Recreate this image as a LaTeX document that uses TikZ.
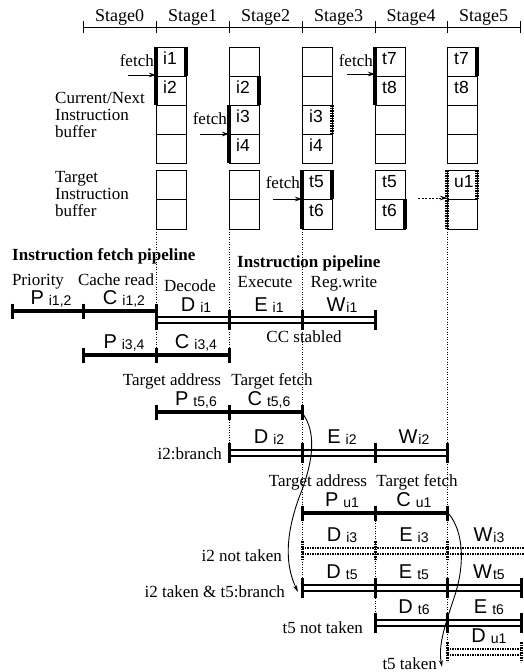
\documentclass[tikz,border=0pt]{standalone}
\usepackage{fontspec}
\setmainfont{Liberation Serif}
\setsansfont{Liberation Sans}
\usetikzlibrary{arrows.meta}
\newcommand\BLab[3][5pt]{{\sffamily\fontsize{20}{20}\selectfont #2\hspace{#1}\raisebox{-1pt}{\fontsize{14}{14}\selectfont #3}}}
\newcommand\SBar[4]{\draw[sbar] (#2,#1) -- (#3,#1); \foreach \tx in {#4} {\draw[tk] (\tx,#1-7.5) -- (\tx,#1+7.5);}}
\newcommand\DBar[5][]{\draw[dbar,#1] (#3,#2) -- (#4,#2); \foreach \tx in {#5} {\draw[tk,#1] (\tx,#2-10) -- (\tx,#2+10);}}
\begin{document}
\begin{tikzpicture}[x=1pt,y=-1pt,
  sbar/.style={line width=4pt},
  dbar/.style={line width=2.6pt,double=white,double distance=3.2pt},
  dotpat/.style={dash pattern=on 1.6pt off 0.9pt},
  tk/.style={line width=3pt},
  vdot/.style={line width=0.8pt,dash pattern=on 1pt off 1.5pt},
  thk/.style={line width=3.5pt},
  cell/.style={line width=0.9pt},
  txt/.style={inner sep=0pt,font=\fontsize{17}{17}\selectfont},
  btxt/.style={inner sep=0pt,font=\bfseries\fontsize{17}{17}\selectfont,anchor=base west},
  ctxt/.style={inner sep=0pt,font=\sffamily\fontsize{17.5}{17.5}\selectfont,anchor=base west},
  blab/.style={inner sep=0pt,anchor=base},
  arr/.style={-{Stealth[length=7pt,width=4.5pt]},line width=1pt},
  carr/.style={-{Stealth[length=7pt,width=4pt]},line width=0.9pt},
]
\useasboundingbox (0,0) rectangle (524,672);

% header
\draw[line width=0.9pt] (83,27) -- (520,27);
\foreach \xx in {83,156,229,302,375,447,520} \draw[line width=0.9pt] (\xx,21) -- (\xx,33);
\foreach \i/\xx in {0/119.5,1/192.5,2/265.5,3/338.5,4/411,5/483.5}
  \node[txt,anchor=base,font=\fontsize{18}{18}\selectfont] (st\i) at (\xx,21) {Stage\i};

% buffers
\foreach \xx in {156,229,302,375,447} {
  \draw[cell] (\xx,47) rectangle (\xx+30,163);
  \foreach \yy in {76,105,134} \draw[cell] (\xx,\yy) -- (\xx+30,\yy);
  \draw[cell] (\xx,170) rectangle (\xx+30,229);
  \draw[cell] (\xx,199) -- (\xx+30,199);
}
\draw[thk] (156,47) -- (156,105);
\draw[thk] (186,47) -- (186,76);
\draw[thk] (259,76) -- (259,105);
\draw[thk] (229,105) -- (229,163);
\draw[thk,dotpat] (332,105) -- (332,134);
\draw[thk] (375,47) -- (375,105);
\draw[thk] (477,47) -- (477,76);
\draw[thk] (302,170) -- (302,229);
\draw[thk] (332,170) -- (332,199);
\draw[thk] (405,199) -- (405,229);
\draw[thk,dotpat] (447,170) -- (447,229);
\draw[thk,dotpat] (477,170) -- (477,199);

\node[ctxt] (c11) at (163,64.5) {i1};
\node[ctxt] (c12) at (163,93.5) {i2};
\node[ctxt] (c22) at (236,93.5) {i2};
\node[ctxt] (c23) at (236,122.5) {i3};
\node[ctxt] (c24) at (236,151.5) {i4};
\node[ctxt] (c33) at (309,122.5) {i3};
\node[ctxt] (c34) at (309,151.5) {i4};
\node[ctxt] (c41) at (382,64.5) {t7};
\node[ctxt] (c42) at (382,93.5) {t8};
\node[ctxt] (c51) at (454,64.5) {t7};
\node[ctxt] (c52) at (454,93.5) {t8};
\node[ctxt] (t35) at (309,187.5) {t5};
\node[ctxt] (t36) at (309,216.5) {t6};
\node[ctxt] (t45) at (382,187.5) {t5};
\node[ctxt] (t46) at (382,216.5) {t6};
\node[ctxt] (t5u) at (454,187.5) {u1};

% fetch labels and arrows
\node[txt,anchor=base east] (f1) at (154,66) {fetch};
\coordinate (f1s) at (128,75); \coordinate (f1e) at (156,75);
\draw[arr] (f1s) -- (f1e);
\node[txt,anchor=base east] (f2) at (227,124) {fetch};
\coordinate (f2s) at (200,134); \coordinate (f2e) at (229,134);
\draw[arr] (f2s) -- (f2e);
\node[txt,anchor=base east] (f4) at (373,66) {fetch};
\coordinate (f4s) at (347,74); \coordinate (f4e) at (375,74);
\draw[arr] (f4s) -- (f4e);
\node[txt,anchor=base east] (f3) at (300,188) {fetch};
\coordinate (f3s) at (273,199); \coordinate (f3e) at (302,199);
\draw[arr] (f3s) -- (f3e);
\coordinate (d5s) at (418,198); \coordinate (d5e) at (447,198);
\draw[arr,line width=0.8pt,dash pattern=on 2pt off 1.5pt] (d5s) -- (d5e);

% left labels
\node[txt,anchor=base west] (cn1) at (55,103) {Current/Next};
\node[txt,anchor=base west] (cn2) at (55,120) {Instruction};
\node[txt,anchor=base west] (cn3) at (55,137) {buffer};
\node[txt,anchor=base west] (tb1) at (55,182) {Target};
\node[txt,anchor=base west] (tb2) at (55,199) {Instruction};
\node[txt,anchor=base west] (tb3) at (55,216) {buffer};

% vertical dotted guides
\draw[vdot] (156,229) -- (156,355);
\draw[vdot] (229,229) -- (229,355);
\draw[vdot] (229,412) -- (229,453);
\draw[vdot] (302,229) -- (302,588);
\draw[vdot] (447,229) -- (447,652);
\draw[vdot] (375,513) -- (375,623);

% pipeline headings
\node[btxt] (ifp) at (12,260) {Instruction fetch pipeline};
\node[btxt] (ip) at (237,267) {Instruction pipeline};
\node[txt,anchor=base] (pri) at (38,285) {Priority};
\node[txt,anchor=base] (cr) at (116,285) {Cache read};
\node[txt,anchor=base] (dec) at (190,291) {Decode};
\node[txt,anchor=base] (exe) at (265,287) {Execute};
\node[txt,anchor=base] (rw) at (344,287) {Reg.write};

% row: P/C i1,2
\SBar{311}{12}{156}{12,83,156}
\node[blab] (lp1) at (51,304.5) {\BLab{P}{i1,2}};
\node[blab] (lc1) at (124,304.5) {\BLab{C}{i1,2}};
% row: D/E/W i1
\DBar{320}{156}{375}{156,229,302,375}
\node[blab] (ld1) at (196,311) {\BLab{D}{i1}};
\node[blab] (le1) at (269,311) {\BLab{E}{i1}};
\node[blab] (lw1) at (342,311) {\BLab[1pt]{W}{i1}};
\node[txt,anchor=base] (cc) at (304,342) {CC stabled};
% row: P/C i3,4
\SBar{355}{83}{229}{83,156,229}
\node[blab] (lp3) at (124,348.5) {\BLab{P}{i3,4}};
\node[blab] (lc3) at (196,348.5) {\BLab{C}{i3,4}};
% target address row 1
\node[txt,anchor=base] (ta1) at (172,385) {Target address};
\node[txt,anchor=base] (tf1) at (272,385) {Target fetch};
\SBar{412}{156}{302}{156,229,302}
\node[blab] (lpt) at (196,405.5) {\BLab{P}{t5,6}};
\node[blab] (lct) at (269,405.5) {\BLab{C}{t5,6}};
% D/E/W i2
\DBar{453}{229}{447}{229,302,375,447}
\node[blab] (ld2) at (269,443.5) {\BLab{D}{i2}};
\node[blab] (le2) at (342,443.5) {\BLab{E}{i2}};
\node[blab] (lw2) at (414,443.5) {\BLab[1pt]{W}{i2}};
\node[txt,anchor=base east] (br) at (222,459) {i2:branch};
% target address row 2
\node[txt,anchor=base] (ta2) at (318,486) {Target address};
\node[txt,anchor=base] (tf2) at (417,486) {Target fetch};
\SBar{513}{302}{447}{302,375,447}
\node[blab] (lpu) at (342,506.5) {\BLab{P}{u1}};
\node[blab] (lcu) at (414,506.5) {\BLab{C}{u1}};
% D/E/W i3 (dotted)
\DBar[dotpat]{551}{302}{524}{302,375,447}
\node[blab] (ld3) at (342,541.5) {\BLab{D}{i3}};
\node[blab] (le3) at (414,541.5) {\BLab{E}{i3}};
\node[blab] (lw3) at (489,541.5) {\BLab[1pt]{W}{i3}};
\node[txt,anchor=base east] (nt2) at (282,561) {i2 not taken};
% D/E/W t5
\DBar{588}{302}{521}{302,375,447,521}
\node[blab] (ld5) at (342,578.5) {\BLab{D}{t5}};
\node[blab] (le5) at (414,578.5) {\BLab{E}{t5}};
\node[blab] (lw5) at (489,578.5) {\BLab[1pt]{W}{t5}};
\node[txt,anchor=base east] (tk2) at (285,597) {i2 taken \& t5:branch};
% D/E t6
\DBar{623}{375}{521}{375,447,521}
\node[blab] (ld6) at (414,613.5) {\BLab{D}{t6}};
\node[blab] (le6) at (489,613.5) {\BLab{E}{t6}};
\node[txt,anchor=base east] (nt5) at (363,633) {t5 not taken};
% D u1 (dotted)
\DBar[dotpat]{652}{447}{521}{447,521}
\node[blab] (ldu) at (489,642.5) {\BLab{D}{u1}};
\node[txt,anchor=base east] (tk5) at (437,669) {t5 taken};

% branch curves
\coordinate (cs1) at (303,414); \coordinate (ce1) at (298,592);
\draw[carr] (cs1) .. controls (316,432) and (314,460) .. (300,495) .. controls (285,535) and (285,565) .. (ce1);
\coordinate (cs2) at (449,514); \coordinate (ce2) at (442,667);
\draw[carr] (cs2) .. controls (462,530) and (466,560) .. (455,595) .. controls (445,625) and (438,645) .. (ce2);
\end{tikzpicture}
\end{document}
